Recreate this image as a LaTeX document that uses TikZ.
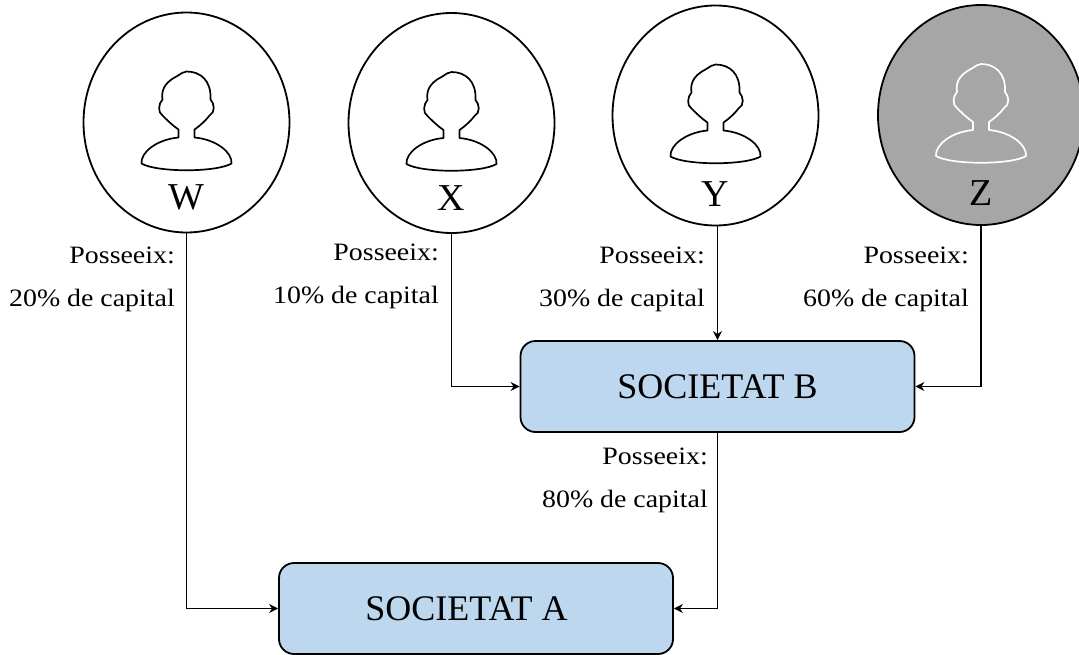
\documentclass[tikz,border=0pt]{standalone}
\usepackage{fontspec}
\setmainfont{Liberation Serif}
\newfontfamily\labelfont[FakeStretch=1.115]{Liberation Serif}
\usepackage{xcolor}
\definecolor{colorSocietat}{HTML}{BDD7EE}
\definecolor{colorGrey}{HTML}{A6A6A6}
\usetikzlibrary{arrows.meta, positioning, shapes.geometric}
\tikzset{
  person/.style={ellipse, draw=black, line width=1.8pt, fill=white, inner sep=0pt, minimum width=206pt, minimum height=220pt},
  societat/.style={rectangle, rounded corners=15pt, draw=black, line width=1.8pt, fill=colorSocietat, minimum width=394pt, minimum height=91pt, font=\fontsize{36}{40}\selectfont},
  letter/.style={font=\fontsize{38}{40}\selectfont, inner sep=0pt},
  share/.style={align=right, anchor=north east, inner sep=0pt, font=\labelfont\fontsize{25}{43}\selectfont},
  link/.style={-{Stealth[length=9pt, width=9pt]}, black, line width=1.7pt},
  bust/.pic={
    \draw[line width=1.7pt, line join=round, pic actions]
      (-45,-41) .. controls (-46,-30) and (-30,-17) .. (-8,-15) -- (-8,-7)
      .. controls (-14,-3) and (-20,3) .. (-24,7) .. controls (-29,10) and (-28,19) .. (-24,23)
      .. controls (-25,30) and (-24,39) .. (-10,46) .. controls (-5,49) and (-3,51) .. (0,51)
      .. controls (14,51) and (25,42) .. (24,23) .. controls (28,19) and (29,10) .. (23,7)
      .. controls (20,3) and (14,-3) .. (8,-7) -- (8,-15)
      .. controls (30,-17) and (46,-30) .. (45,-41)
      .. controls (30,-50) and (-30,-50) .. (-45,-41) -- cycle;
  }
}

\begin{document}
\begin{tikzpicture}[x=1pt, y=1pt]
\useasboundingbox (0,0) rectangle (1079,-654);
\node[person] (w) at (186.5,-122.5) {};
\node[person] (x) at (451.5,-123) {};
\node[person] (y) at (715.5,-115.5) {};
\node[person, fill=colorGrey] (z) at (981,-115) {};
\pic at (w.center) {bust};
\pic at (x.center) {bust};
\pic at (y.center) {bust};
\pic[draw=white] at (z.center) {bust};
\node[letter] (lw) at (186.5,-197) {W};
\node[letter] (lx) at (451.5,-198) {X};
\node[letter] (ly) at (715.5,-194) {Y};
\node[letter] (lz) at (981,-193) {Z};
\node[societat] (socB) at (717.5,-386.5) {SOCIETAT B};
\node[societat] (socA) at (476,-608.5) {SOCIETAT A\rule{19pt}{0pt}};
\draw[link] (w.south) |- (socA.west);
\draw[link] (x.south) |- (socB.west);
\draw[link] (y.south -| socB.north) -- (socB.north);
\draw[link] (z.south) |- (socB.east);
\draw[link] (socB.south) |- (socA.east);
\node[share] (sw) at (175,-247) {Posseeix:\\20\% de capital};
\node[share] (sx) at (439,-244) {Posseeix:\\10\% de capital};
\node[share] (sy) at (705,-247) {Posseeix:\\30\% de capital};
\node[share] (sz) at (969,-247) {Posseeix:\\60\% de capital};
\node[share] (sb) at (708,-448) {Posseeix:\\80\% de capital};
\end{tikzpicture}
\end{document}
